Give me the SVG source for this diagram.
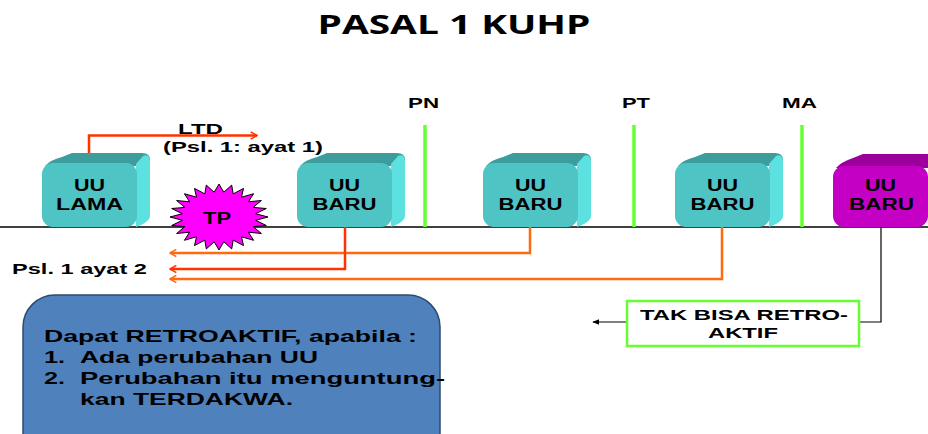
<svg xmlns="http://www.w3.org/2000/svg" width="928" height="434" viewBox="0 0 928 434">
<defs>
<style>
.t{font-family:"Liberation Sans",Arial,sans-serif;font-weight:bold;fill:#000}
.node{font-size:16px;text-anchor:middle}
.lbl{font-size:15px}
.big{font-size:17px}
.front{fill:#4FC4C4}
.top{fill:#3D9C9C}
.side{fill:#5CE0E0}
.mfront{fill:#C400C4}
.mtop{fill:#9C009C}
.green{stroke:#66FF33;stroke-width:3.5}
.or{fill:none;stroke:#FF6A10;stroke-width:2.5}
.rd{fill:none;stroke:#FF3300;stroke-width:2.5}
</style>
<marker id="ah" viewBox="0 0 10 10" refX="9" refY="5" markerWidth="9" markerHeight="9" orient="auto" markerUnits="userSpaceOnUse">
<path d="M2,1 L9,5 L2,9" fill="none" stroke="context-stroke" stroke-width="1.8"/>
</marker>
<marker id="ahk" viewBox="0 0 10 10" refX="9" refY="5" markerWidth="7" markerHeight="7" orient="auto" markerUnits="userSpaceOnUse">
<path d="M0,1 L10,5 L0,9 Z" fill="#000"/>
</marker>
<g id="box">
<path class="top" d="M3,166 Q8,160 20,157 L30,153 L100,153 Q108,153 108,160 L95,166 Z"/>
<path class="side" d="M94,164 L101,156 Q108,153 108,162 L108,216 Q108,220 101,224 L94,227 Z"/>
<rect class="front" x="0" y="163" width="95" height="64" rx="11"/>
</g>
</defs>

<text class="t" x="454" y="34" style="font-family:'Open Sans','Liberation Sans',sans-serif;font-size:27px" text-anchor="middle" textLength="273" lengthAdjust="spacingAndGlyphs">PASAL 1 KUHP</text>

<line x1="0" y1="227" x2="928" y2="227" stroke="#000" stroke-width="1.5"/>

<g id="markers-green">
<line class="green" x1="425" y1="125" x2="425" y2="227"/>
<line class="green" x1="634" y1="125" x2="634" y2="227"/>
<line class="green" x1="802" y1="125" x2="802" y2="227"/>
</g>
<text class="t lbl" x="423.5" y="108" text-anchor="middle" textLength="31" lengthAdjust="spacingAndGlyphs">PN</text>
<text class="t lbl" x="636" y="108" text-anchor="middle" textLength="28" lengthAdjust="spacingAndGlyphs">PT</text>
<text class="t lbl" x="799.5" y="108" text-anchor="middle" textLength="35" lengthAdjust="spacingAndGlyphs">MA</text>

<g id="connectors">
<path class="rd" d="M89,163 V135.5 H257" marker-end="url(#ah)"/>
<path class="or" d="M530,227 V253 H170" marker-end="url(#ah)"/>
<path class="rd" d="M345,227 V269 H170" marker-end="url(#ah)"/>
<path class="or" d="M722,227 V279 H170" marker-end="url(#ah)"/>
<path d="M881,227 V322 H593" fill="none" stroke="#000" stroke-width="1.2" marker-end="url(#ahk)"/>
</g>

<text class="t lbl" x="200.5" y="134" text-anchor="middle" textLength="45" lengthAdjust="spacingAndGlyphs">LTD</text>
<text class="t lbl" x="243" y="152" text-anchor="middle" textLength="160" lengthAdjust="spacingAndGlyphs">(Psl. 1: ayat 1)</text>
<text class="t lbl" x="12" y="274" textLength="135" lengthAdjust="spacingAndGlyphs">Psl. 1 ayat 2</text>

<g id="uu-lama">
<use href="#box" x="42"/>
<text class="t node" x="89.5" y="191" textLength="31" lengthAdjust="spacingAndGlyphs">UU</text>
<text class="t node" x="89.5" y="210" textLength="67" lengthAdjust="spacingAndGlyphs">LAMA</text>
</g>

<g id="tp">
<polygon points="268,217 255.7,220.3 266.3,225.5 253.2,226.6 261.4,233.5 248.4,232.2 253.6,240.3 241.5,236.8 243.5,245.6 233.2,240.1 231.7,248.9 223.8,241.8 219,250 214.2,241.8 206.3,248.9 204.8,240.1 194.5,245.6 196.5,236.8 184.4,240.3 189.6,232.2 176.6,233.5 184.8,226.6 171.7,225.5 182.3,220.3 170,217 182.3,213.7 171.7,208.5 184.8,207.4 176.6,200.5 189.6,201.8 184.4,193.7 196.5,197.2 194.5,188.4 204.8,193.9 206.3,185.1 214.2,192.2 219,184 223.8,192.2 231.7,185.1 233.2,193.9 243.5,188.4 241.5,197.2 253.6,193.7 248.4,201.8 261.4,200.5 253.2,207.4 266.3,208.5 255.7,213.7" fill="#FF00FF" stroke="#000" stroke-width="1"/>
<text class="t node" x="217" y="224" textLength="28" lengthAdjust="spacingAndGlyphs">TP</text>
</g>

<g id="uu-baru-1">
<use href="#box" x="297"/>
<text class="t node" x="344.5" y="191" textLength="31" lengthAdjust="spacingAndGlyphs">UU</text>
<text class="t node" x="344.5" y="210" textLength="64" lengthAdjust="spacingAndGlyphs">BARU</text>
</g>

<g id="uu-baru-2">
<use href="#box" x="483"/>
<text class="t node" x="530.5" y="191" textLength="31" lengthAdjust="spacingAndGlyphs">UU</text>
<text class="t node" x="530.5" y="210" textLength="64" lengthAdjust="spacingAndGlyphs">BARU</text>
</g>

<g id="uu-baru-3">
<use href="#box" x="675"/>
<text class="t node" x="722.5" y="191" textLength="31" lengthAdjust="spacingAndGlyphs">UU</text>
<text class="t node" x="722.5" y="210" textLength="64" lengthAdjust="spacingAndGlyphs">BARU</text>
</g>

<g id="uu-baru-4">
<path class="mtop" d="M836,168 Q841,162 853,158 L863,154 L933,154 Q941,154 941,161 L928,168 Z"/>
<rect class="mfront" x="833" y="166" width="95" height="61" rx="11"/>
<text class="t node" x="880.5" y="191" textLength="31" lengthAdjust="spacingAndGlyphs">UU</text>
<text class="t node" x="881.5" y="210" textLength="65" lengthAdjust="spacingAndGlyphs">BARU</text>
</g>

<g id="tak-bisa">
<rect x="627" y="301" width="232" height="45" fill="#fff" stroke="#66FF33" stroke-width="2.5"/>
<text class="t lbl" x="744" y="320" text-anchor="middle" textLength="208" lengthAdjust="spacingAndGlyphs">TAK BISA RETRO-</text>
<text class="t lbl" x="743" y="338" text-anchor="middle" textLength="70" lengthAdjust="spacingAndGlyphs">AKTIF</text>
</g>

<g id="syarat">
<rect x="23" y="295" width="417" height="170" rx="32" fill="#4F81BD" stroke="#2F4A6A" stroke-width="1.5"/>
<text class="t big" x="44" y="342" textLength="373" lengthAdjust="spacingAndGlyphs">Dapat RETROAKTIF, apabila :</text>
<text class="t big" x="44" y="363" textLength="21" lengthAdjust="spacingAndGlyphs">1.</text>
<text class="t big" x="80" y="363" textLength="238" lengthAdjust="spacingAndGlyphs">Ada perubahan UU</text>
<text class="t big" x="44" y="384" textLength="21" lengthAdjust="spacingAndGlyphs">2.</text>
<text class="t big" x="80" y="384" textLength="365" lengthAdjust="spacingAndGlyphs">Perubahan itu menguntung-</text>
<text class="t big" x="80" y="405" textLength="213" lengthAdjust="spacingAndGlyphs">kan TERDAKWA.</text>
</g>
</svg>
